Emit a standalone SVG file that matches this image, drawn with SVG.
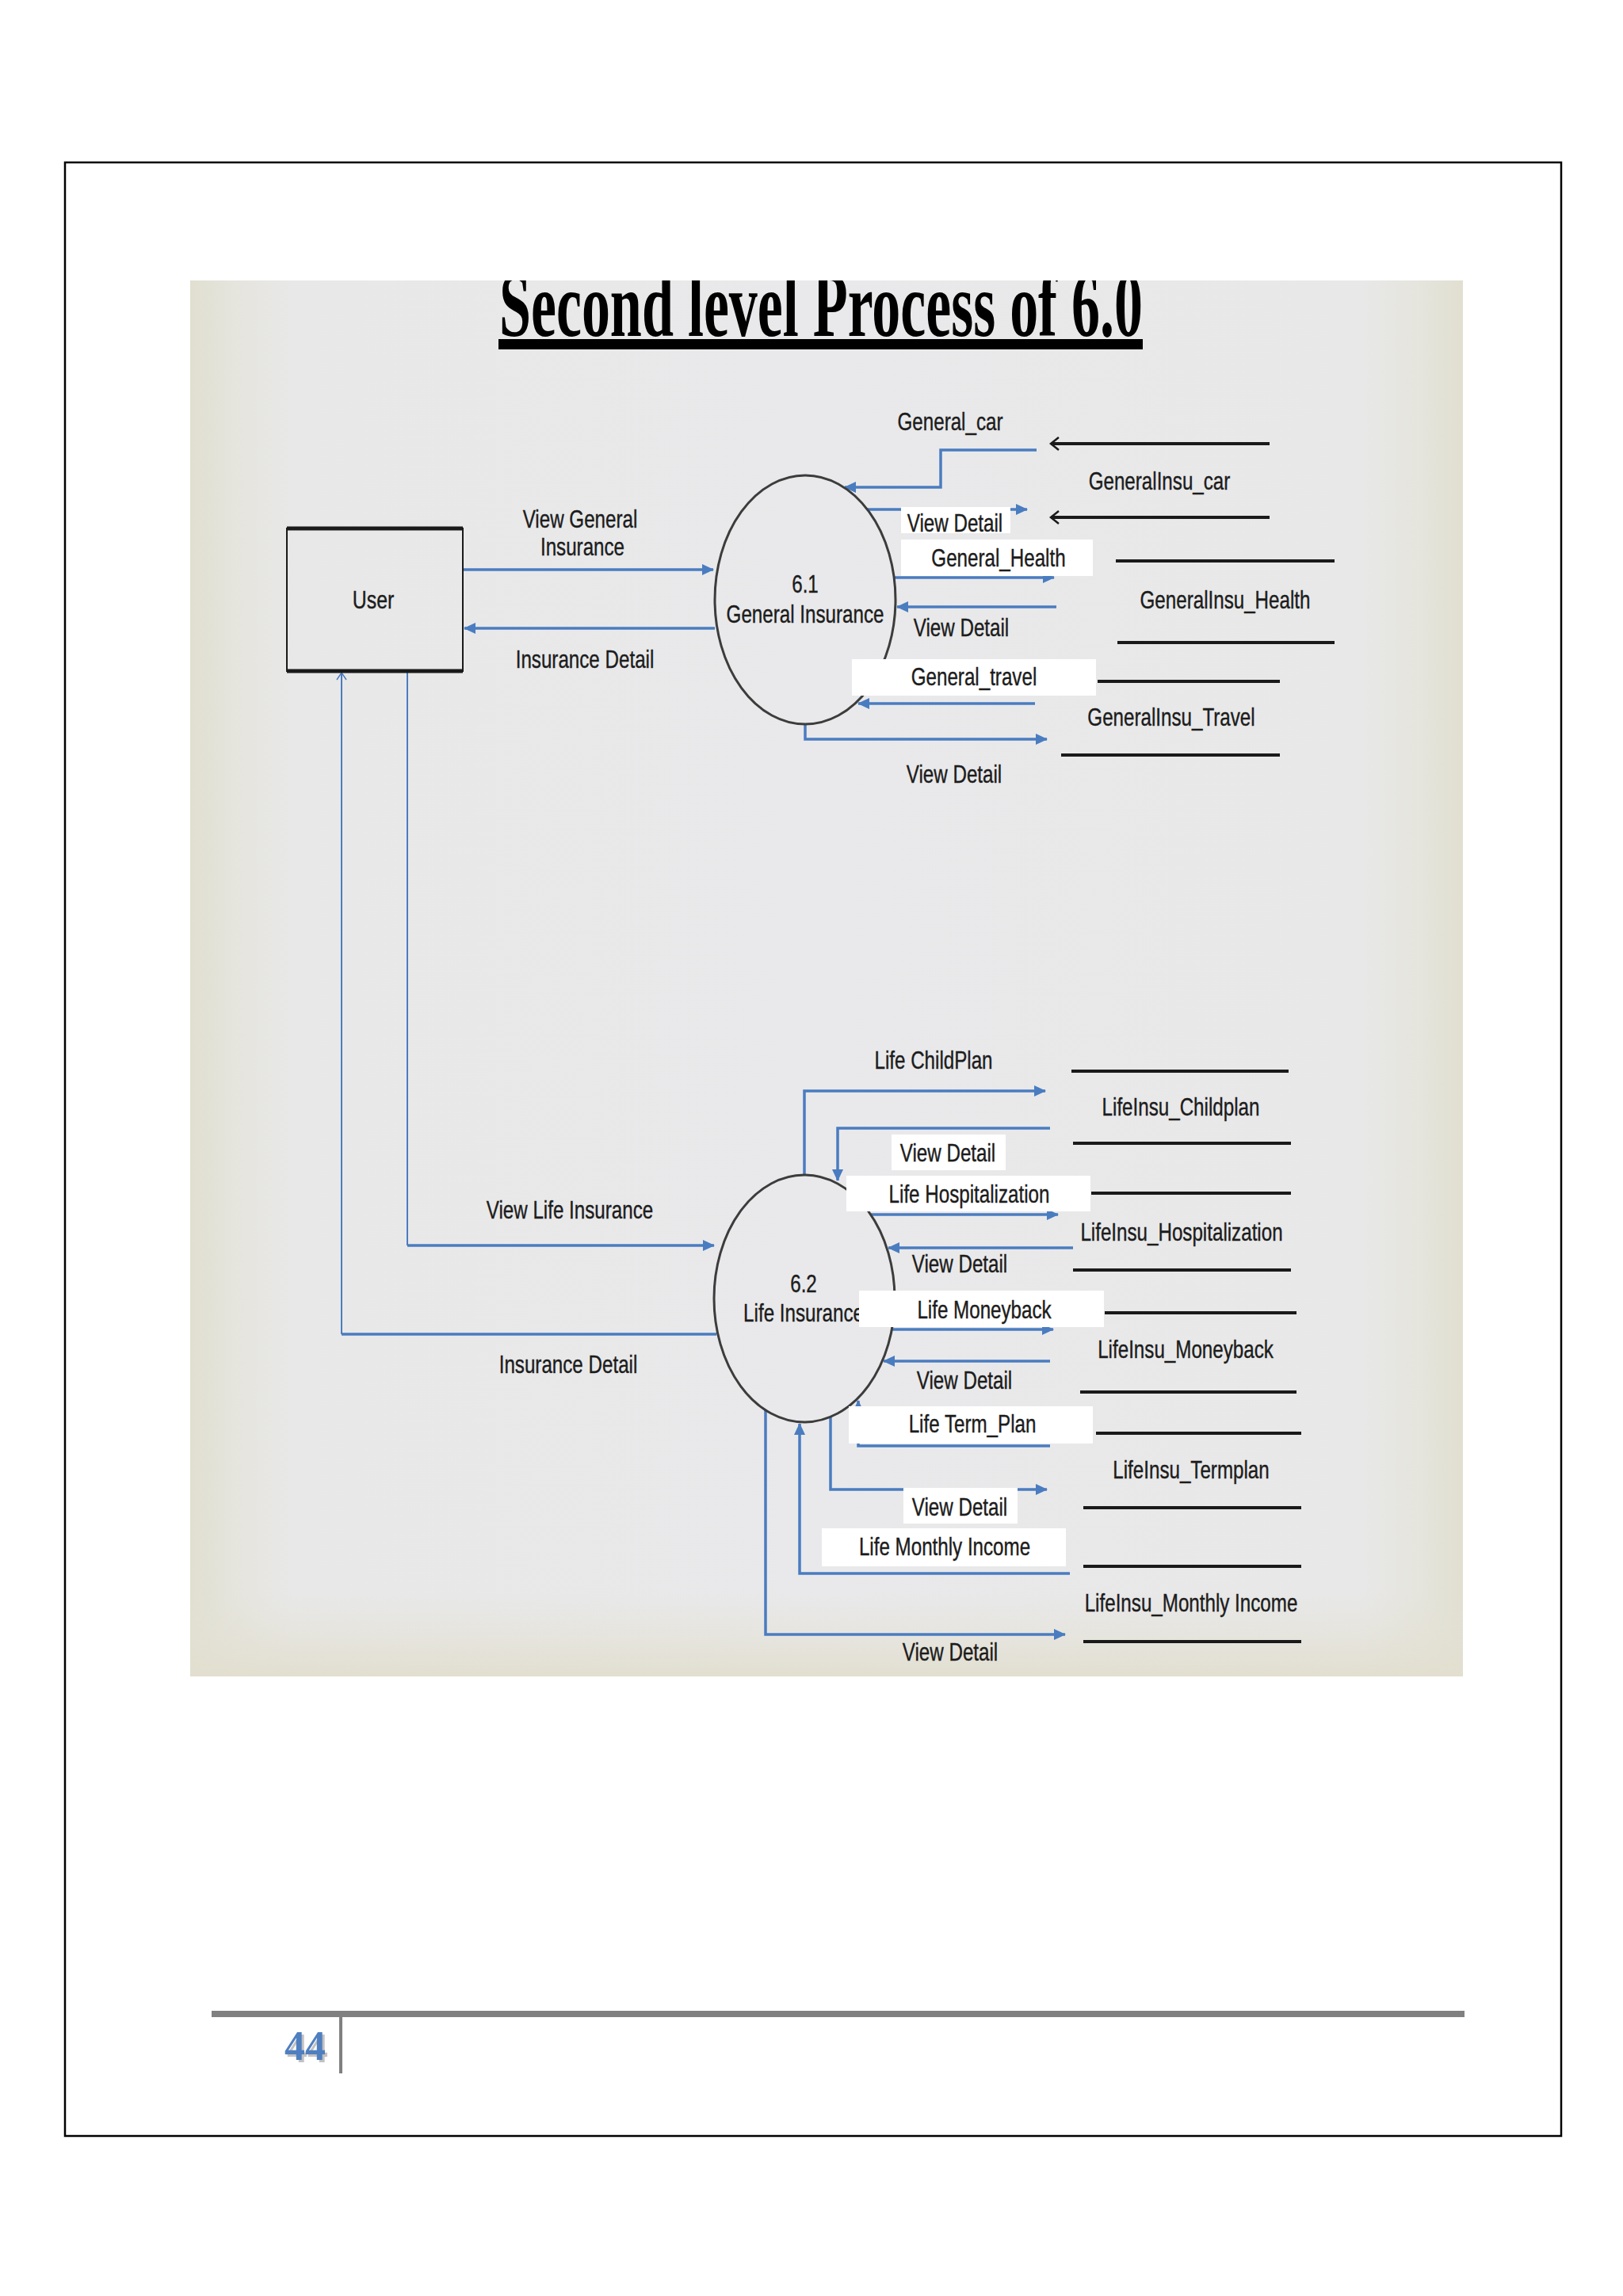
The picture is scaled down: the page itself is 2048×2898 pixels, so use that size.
<svg xmlns="http://www.w3.org/2000/svg" width="2048" height="2898" viewBox="0 0 2048 2898">
<style>
.lbl{font-family:"Liberation Sans",Arial,sans-serif;font-size:31px;fill:#1c1c1c;stroke:#1c1c1c;stroke-width:0.4;text-anchor:middle}
.flow{fill:none;stroke:#4a7cc0;stroke-width:3.5}
.thin{fill:none;stroke:#4a7cc0;stroke-width:2}
.store{stroke:#1a1a1a;stroke-width:4;fill:none}
.proc{fill:none;stroke:#3c3c3c;stroke-width:3}
.wbox{fill:#ffffff;stroke:none}
</style>
<defs>
<marker id="ab" markerUnits="userSpaceOnUse" markerWidth="16" markerHeight="14" refX="14" refY="7" orient="auto"><path d="M0,0 L15,7 L0,14 z" fill="#4a7cc0"/></marker>
<marker id="ao" markerUnits="userSpaceOnUse" markerWidth="14" markerHeight="18" refX="11" refY="9" orient="auto"><path d="M1,1 L11,9 L1,17" fill="none" stroke="#1a1a1a" stroke-width="2.5"/></marker>
<marker id="aob" markerUnits="userSpaceOnUse" markerWidth="12" markerHeight="14" refX="10" refY="7" orient="auto"><path d="M1,1 L10,7 L1,13" fill="none" stroke="#4a7cc0" stroke-width="1.5"/></marker>
<linearGradient id="bgH" x1="0" y1="0" x2="1" y2="0">
<stop offset="0" stop-color="#e0dfd0"/>
<stop offset="0.03" stop-color="#e5e4dc"/>
<stop offset="0.08" stop-color="#e8e8e8"/>
<stop offset="0.5" stop-color="#e9e9eb"/>
<stop offset="0.92" stop-color="#e8e8e8"/>
<stop offset="0.97" stop-color="#e5e4dc"/>
<stop offset="1" stop-color="#e0dfd0"/>
</linearGradient>
<linearGradient id="bgV" x1="0" y1="0" x2="0" y2="1">
<stop offset="0" stop-color="#e4e2d6" stop-opacity="0"/>
<stop offset="1" stop-color="#e2dfd0" stop-opacity="1"/>
</linearGradient>
<clipPath id="bgclip"><rect x="240" y="354" width="1606" height="1762"/></clipPath>
</defs>
<rect x="0" y="0" width="2048" height="2898" fill="#ffffff"/>
<rect x="82" y="205" width="1888" height="2491" fill="#ffffff" stroke="#000000" stroke-width="2.5"/>
<g id="background">
<rect x="240" y="354" width="1606" height="1762" fill="url(#bgH)"/>
<rect x="240" y="2010" width="1606" height="106" fill="url(#bgV)"/>
</g>
<g id="title" clip-path="url(#bgclip)">
<text x="630" y="424" textLength="812" lengthAdjust="spacingAndGlyphs" font-family="Liberation Serif,Times New Roman,serif" font-weight="bold" font-size="116" fill="#000">Second level Process of 6.0</text>
<rect x="629" y="428" width="813" height="13" fill="#000"/>
</g>

<g id="connectors">
<path class="flow" d="M584,719 H900" marker-end="url(#ab)"/>
<path class="flow" d="M902,793 H586" marker-end="url(#ab)"/>
<path class="flow" d="M1308,568 H1187 V615 H1066" marker-end="url(#ab)"/>
<path class="flow" d="M1094,643 H1296" marker-end="url(#ab)"/>
<path class="flow" d="M1128,729 H1330" marker-end="url(#ab)"/>
<path class="flow" d="M1333,766 H1132" marker-end="url(#ab)"/>
<path class="flow" d="M1306,888 H1083" marker-end="url(#ab)"/>
<path class="flow" d="M1016,914 V933 H1321" marker-end="url(#ab)"/>
<path class="flow" d="M904,1684 H431"/>
<path class="thin" d="M431,1684 V849" marker-end="url(#aob)"/>
<path class="thin" d="M514,847 V1572"/>
<path class="flow" d="M514,1572 H901" marker-end="url(#ab)"/>
<path class="flow" d="M1015,1483 V1377 H1319" marker-end="url(#ab)"/>
<path class="flow" d="M1325,1424 H1057 V1490" marker-end="url(#ab)"/>
<path class="flow" d="M1099,1533 H1335" marker-end="url(#ab)"/>
<path class="flow" d="M1354,1575 H1121" marker-end="url(#ab)"/>
<path class="flow" d="M1126,1678 H1329" marker-end="url(#ab)"/>
<path class="flow" d="M1325,1718 H1115" marker-end="url(#ab)"/>
<path class="flow" d="M1325,1825 H1083 V1768" marker-end="url(#ab)"/>
<path class="flow" d="M1048,1788 V1880 H1321" marker-end="url(#ab)"/>
<path class="flow" d="M1350,1986 H1009 V1797" marker-end="url(#ab)"/>
<path class="flow" d="M966,1780 V2063 H1344" marker-end="url(#ab)"/>
</g>

<g id="user">
<rect x="362" y="667" width="222" height="180" fill="none" stroke="#1a1a1a" stroke-width="2"/>
<line x1="362" y1="667" x2="584" y2="667" stroke="#1a1a1a" stroke-width="5"/>
<line x1="362" y1="847" x2="584" y2="847" stroke="#1a1a1a" stroke-width="5"/>
<text class="lbl" transform="matrix(0.8 0 0 1 471 768)" font-size="34">User</text>
</g>

<g id="p61">
<ellipse class="proc" cx="1016" cy="757" rx="114" ry="157"/>
<text class="lbl" transform="matrix(0.78 0 0 1 1016 748)">6.1</text>
<text class="lbl" transform="matrix(0.78 0 0 1 1016 786)">General Insurance</text>
</g>

<g id="p62">
<ellipse class="proc" cx="1015" cy="1639" rx="114" ry="156"/>
<text class="lbl" transform="matrix(0.78 0 0 1 1014 1631)">6.2</text>
<text class="lbl" transform="matrix(0.78 0 0 1 1014 1668)">Life Insurance</text>
</g>

<g id="store-gcar">
<path class="store" d="M1602,560 H1326" marker-end="url(#ao)"/>
<path class="store" d="M1602,653 H1326" marker-end="url(#ao)"/>
<text class="lbl" transform="matrix(0.78 0 0 1 1463 618)">GeneralInsu_car</text>
</g>
<g id="store-ghealth">
<line class="store" x1="1408" y1="708" x2="1684" y2="708"/>
<line class="store" x1="1410" y1="811" x2="1684" y2="811"/>
<text class="lbl" transform="matrix(0.78 0 0 1 1546 768)">GeneralInsu_Health</text>
</g>
<g id="store-gtravel">
<line class="store" x1="1385" y1="860" x2="1615" y2="860"/>
<line class="store" x1="1339" y1="953" x2="1615" y2="953"/>
<text class="lbl" transform="matrix(0.78 0 0 1 1478 916)">GeneralInsu_Travel</text>
</g>
<g id="store-lchild">
<line class="store" x1="1352" y1="1352" x2="1626" y2="1352"/>
<line class="store" x1="1354" y1="1443" x2="1629" y2="1443"/>
<text class="lbl" transform="matrix(0.78 0 0 1 1490 1408)">LifeInsu_Childplan</text>
</g>
<g id="store-lhosp">
<line class="store" x1="1377" y1="1506" x2="1629" y2="1506"/>
<line class="store" x1="1354" y1="1603" x2="1629" y2="1603"/>
<text class="lbl" transform="matrix(0.78 0 0 1 1491 1566)">LifeInsu_Hospitalization</text>
</g>
<g id="store-lmoney">
<line class="store" x1="1394" y1="1657" x2="1636" y2="1657"/>
<line class="store" x1="1363" y1="1757" x2="1636" y2="1757"/>
<text class="lbl" transform="matrix(0.78 0 0 1 1496 1714)">LifeInsu_Moneyback</text>
</g>
<g id="store-lterm">
<line class="store" x1="1383" y1="1809" x2="1642" y2="1809"/>
<line class="store" x1="1367" y1="1903" x2="1642" y2="1903"/>
<text class="lbl" transform="matrix(0.78 0 0 1 1503 1866)">LifeInsu_Termplan</text>
</g>
<g id="store-lmonthly">
<line class="store" x1="1367" y1="1977" x2="1642" y2="1977"/>
<line class="store" x1="1367" y1="2072" x2="1642" y2="2072"/>
<text class="lbl" transform="matrix(0.78 0 0 1 1503 2034)">LifeInsu_Monthly Income</text>
</g>

<g id="labels">
<text class="lbl" transform="matrix(0.78 0 0 1 732 666)">View  General</text>
<text class="lbl" transform="matrix(0.78 0 0 1 735 701)">Insurance</text>
<text class="lbl" transform="matrix(0.78 0 0 1 738 843)">Insurance Detail</text>
<text class="lbl" transform="matrix(0.78 0 0 1 1199 543)">General_car</text>
<rect class="wbox" x="1137" y="640" width="138" height="33"/>
<text class="lbl" transform="matrix(0.78 0 0 1 1205 671)">View  Detail</text>
<rect class="wbox" x="1137" y="681" width="242" height="46"/>
<text class="lbl" transform="matrix(0.78 0 0 1 1260 715)">General_Health</text>
<text class="lbl" transform="matrix(0.78 0 0 1 1213 803)">View  Detail</text>
<rect class="wbox" x="1075" y="832" width="308" height="46"/>
<text class="lbl" transform="matrix(0.78 0 0 1 1229 865)">General_travel</text>
<text class="lbl" transform="matrix(0.78 0 0 1 1204 988)">View  Detail</text>
<text class="lbl" transform="matrix(0.78 0 0 1 719 1538)">View  Life Insurance</text>
<text class="lbl" transform="matrix(0.78 0 0 1 717 1733)">Insurance Detail</text>
<text class="lbl" transform="matrix(0.78 0 0 1 1178 1349)">Life ChildPlan</text>
<rect class="wbox" x="1125" y="1432" width="144" height="45"/>
<text class="lbl" transform="matrix(0.78 0 0 1 1196 1466)">View  Detail</text>
<rect class="wbox" x="1068" y="1484" width="308" height="45"/>
<text class="lbl" transform="matrix(0.78 0 0 1 1223 1518)">Life Hospitalization</text>
<text class="lbl" transform="matrix(0.78 0 0 1 1211 1606)">View  Detail</text>
<rect class="wbox" x="1084" y="1629" width="309" height="46"/>
<text class="lbl" transform="matrix(0.78 0 0 1 1242 1664)">Life Moneyback</text>
<text class="lbl" transform="matrix(0.78 0 0 1 1217 1753)">View  Detail</text>
<rect class="wbox" x="1071" y="1775" width="308" height="47"/>
<text class="lbl" transform="matrix(0.78 0 0 1 1227 1808)">Life Term_Plan</text>
<rect class="wbox" x="1140" y="1878" width="144" height="45"/>
<text class="lbl" transform="matrix(0.78 0 0 1 1211 1913)">View  Detail</text>
<rect class="wbox" x="1037" y="1929" width="308" height="48"/>
<text class="lbl" transform="matrix(0.78 0 0 1 1192 1963)">Life Monthly Income</text>
<text class="lbl" transform="matrix(0.78 0 0 1 1199 2096)">View  Detail</text>
</g>

<g id="footer">
<rect x="267" y="2538" width="1581" height="8" fill="#808080"/>
<rect x="428" y="2546" width="4" height="71" fill="#808080"/>
<text x="388" y="2603" font-family="Liberation Serif,Times New Roman,serif" font-weight="bold" font-size="52" fill="#9a9a9a" text-anchor="middle" opacity="0.6">44</text>
<text x="385" y="2600" font-family="Liberation Serif,Times New Roman,serif" font-weight="bold" font-size="52" fill="#4f7fc0" text-anchor="middle">44</text>
</g>
</svg>
